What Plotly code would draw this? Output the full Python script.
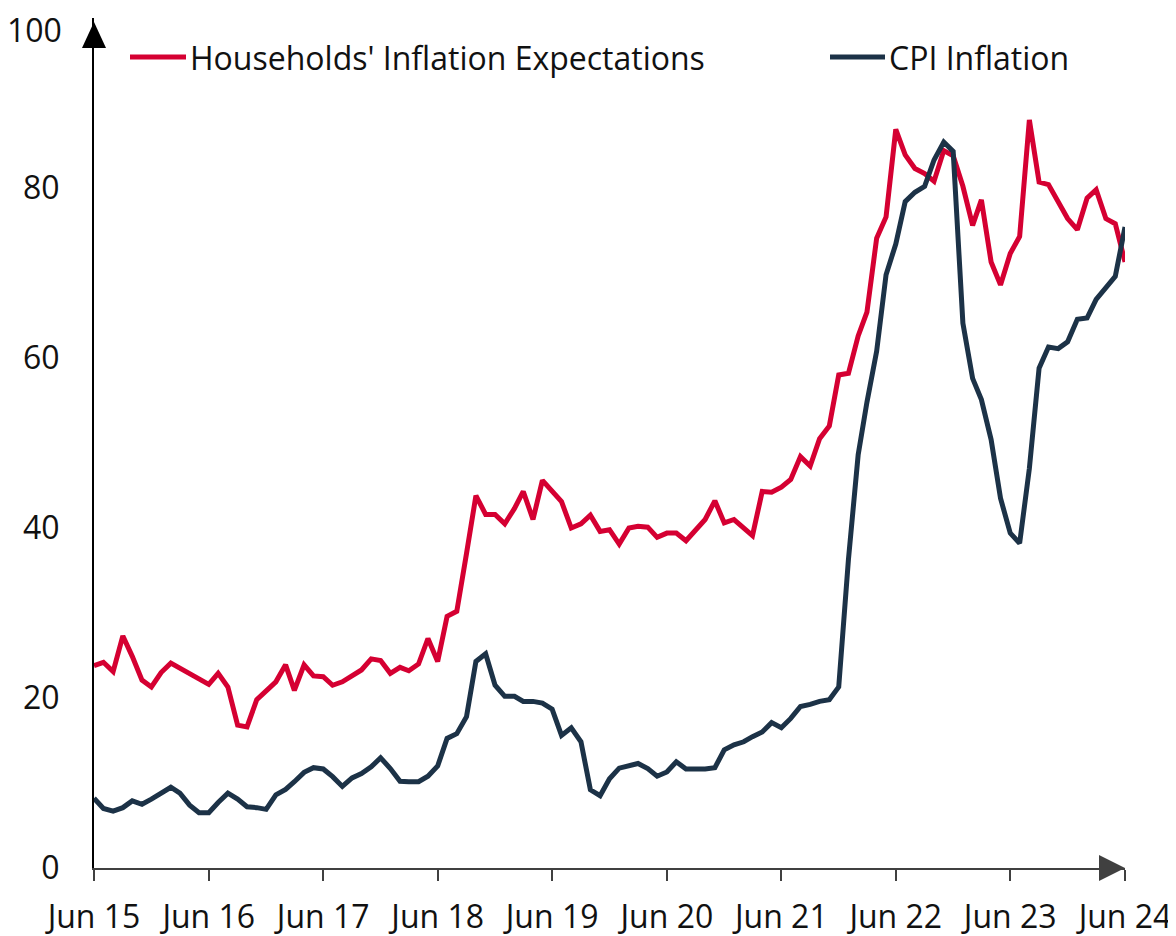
import pandas as pd
import plotly.graph_objects as go

months = pd.date_range("2015-06-01", "2024-06-01", freq="MS")

households_expectations = [
    23.8, 24.2, 23.1, 27.3, 24.9, 22.1, 21.3, 23.0, 24.1, 23.5, 22.7, 22.2,
    21.6, 22.9, 21.3, 16.8, 16.6, 19.8, 20.8, 21.9, 23.9, 20.9, 23.9, 22.6,
    22.5, 21.5, 21.9, 22.7, 23.3, 24.6, 24.4, 22.9, 23.6, 23.2, 24.0, 27.0,
    24.3, 29.6, 30.2, 37.0, 43.8, 41.6, 41.6, 40.5, 42.3, 44.3, 41.0, 45.6,
    44.3, 43.1, 40.0, 40.5, 41.5, 39.6, 39.8, 38.1, 40.0, 40.2, 40.1, 38.9,
    39.4, 39.4, 38.5, 39.8, 41.0, 43.2, 40.6, 41.0, 40.0, 39.1, 44.3, 44.2,
    44.8, 45.7, 48.4, 47.3, 50.5, 52.0, 58.0, 58.2, 62.6, 65.4, 74.1, 76.6,
    86.9, 83.9, 82.3, 81.7, 80.8, 84.4, 83.8, 80.2, 75.6, 78.6, 71.3, 68.6,
    72.3, 74.3, 88.0, 80.7, 80.4, 78.4, 76.4, 75.1, 78.8, 79.8, 76.4, 75.8,
    71.3,
]

cpi_inflation = [
    8.2, 7.0, 6.7, 7.1, 7.9, 7.5, 8.1, 8.85, 9.5, 8.8, 7.4, 6.5,
    6.5, 7.7, 8.8, 8.1, 7.2, 7.1, 6.9, 8.6, 9.25, 10.15, 11.25, 11.8,
    11.65, 10.75, 9.6, 10.6, 11.1, 11.9, 12.97, 11.7, 10.2, 10.15, 10.15, 10.8,
    12.0, 15.25, 15.8, 17.8, 24.3, 25.2, 21.5, 20.2, 20.2, 19.6, 19.6, 19.4,
    18.7, 15.6, 16.5, 14.85, 9.2, 8.5, 10.5, 11.75, 12.1, 12.3, 11.7, 10.8,
    11.3, 12.5, 11.65, 11.65, 11.65, 11.8, 13.9, 14.5, 14.85, 15.45, 16.0, 17.1,
    16.5, 17.6, 19.0, 19.25, 19.6, 19.8, 21.3, 36.3, 48.6, 54.8, 60.8, 69.8,
    73.4, 78.4, 79.5, 80.2, 83.3, 85.4, 84.3, 64.1, 57.6, 55.1, 50.4, 43.5,
    39.4, 38.2, 47.0, 58.8, 61.3, 61.1, 61.9, 64.55, 64.7, 66.9, 68.2, 69.6,
    75.4,
]

tick_dates = ["2015-06-01", "2016-06-01", "2017-06-01", "2018-06-01", "2019-06-01",
              "2020-06-01", "2021-06-01", "2022-06-01", "2023-06-01", "2024-06-01"]
tick_labels = ["Jun 15", "Jun 16", "Jun 17", "Jun 18", "Jun 19",
               "Jun 20", "Jun 21", "Jun 22", "Jun 23", "Jun 24"]
y_ticks = [0, 20, 40, 60, 80]
y_top_label = "100"

series_names = ["Households' Inflation Expectations", "CPI Inflation"]
RED = "#D50032"
NAVY = "#1C3247"
TEXT = "#111111"
FONT = "Open Sans"
FS = 32

# page offset (default body margin of the html page)
OFF = 8
W, H = 1176 - OFF, 936 - OFF
# plot area in page pixels: x 94..1125, y 18..868
L = 94 - OFF
R = W - (1125 - OFF)
T = 18 - OFF
B = H - (868 - OFF)
pw, ph = W - L - R, H - T - B

def px_x(px):
    return (px - OFF - L) / pw

def px_y(py):
    return (H - B - (py - OFF)) / ph

fig = go.Figure()
fig.add_trace(go.Scatter(x=months, y=households_expectations, mode="lines",
                         name=series_names[0], line=dict(color=RED, width=5)))
fig.add_trace(go.Scatter(x=months, y=cpi_inflation, mode="lines",
                         name=series_names[1], line=dict(color=NAVY, width=5)))

# manual legend (page pixel positions)
legend_items = [(130, 186, 188, series_names[0], RED), (830, 885, 887, series_names[1], NAVY)]
for x0, x1, xt, name, col in legend_items:
    fig.add_shape(type="line", xref="paper", yref="paper",
                  x0=px_x(x0), x1=px_x(x1), y0=px_y(57), y1=px_y(57),
                  line=dict(color=col, width=5))
    fig.add_annotation(text=name, xref="paper", yref="paper", x=px_x(xt), y=px_y(57),
                       xanchor="left", yanchor="middle", showarrow=False,
                       font=dict(family=FONT, size=FS, color=TEXT))

# top y label (kept fully inside the page)
fig.add_annotation(text=y_top_label, xref="paper", yref="paper", x=px_x(64), y=px_y(29),
                   xanchor="right", yanchor="middle", showarrow=False,
                   font=dict(family=FONT, size=FS, color=TEXT))

# axis arrowheads
fig.add_shape(type="path", xref="paper", yref="paper", xsizemode="pixel", ysizemode="pixel",
              xanchor=0, yanchor=1, path="M -12,-30 L 12,-30 L 0,-4 Z",
              fillcolor="#000000", line=dict(width=0))
fig.add_shape(type="path", xref="paper", yref="paper", xsizemode="pixel", ysizemode="pixel",
              xanchor=1, yanchor=0, path="M -26,-13 L -26,13 L 0,0 Z",
              fillcolor="#404040", line=dict(width=0))

fig.update_layout(
    width=W, height=H,
    margin=dict(l=L, r=R, t=T, b=B, autoexpand=False),
    plot_bgcolor="white", paper_bgcolor="white",
    showlegend=False,
    font=dict(family=FONT, size=FS, color=TEXT),
    xaxis=dict(range=[months[0], months[-1]], tickvals=tick_dates, ticktext=tick_labels,
               showgrid=False, zeroline=False, showline=True, linecolor="#404040", linewidth=2,
               ticks="outside", ticklen=11, tickwidth=2, tickcolor="#404040",
               ticklabelstandoff=9, ticklabeloverflow="allow", automargin=False,
               tickfont=dict(family=FONT, size=FS, color=TEXT)),
    yaxis=dict(range=[0, 100], tickvals=y_ticks, showgrid=False, zeroline=False,
               showline=True, linecolor="#000000", linewidth=2, ticks="",
               ticklabelstandoff=26, ticklabeloverflow="allow", automargin=False,
               tickfont=dict(family=FONT, size=FS, color=TEXT)),
)

fig.write_html("out.html")
